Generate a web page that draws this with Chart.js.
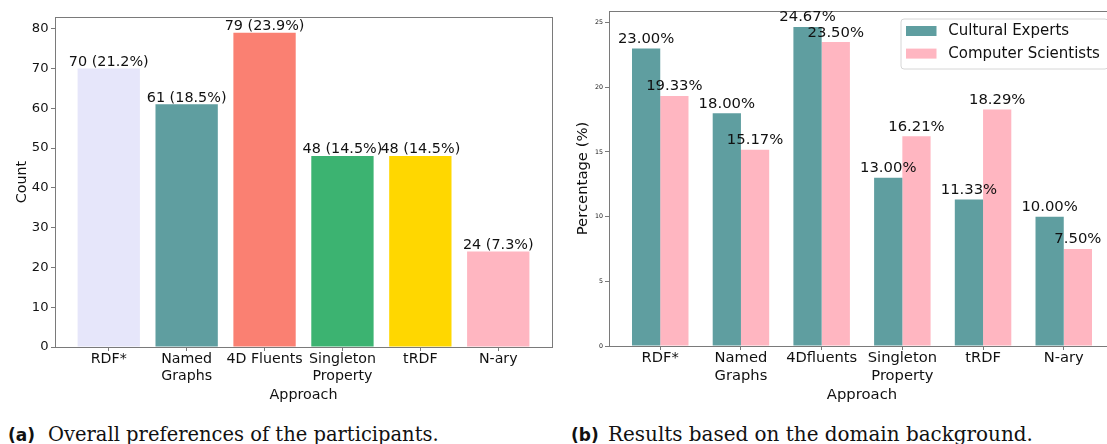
<!DOCTYPE html>
<html>
<head>
<meta charset="utf-8">
<title>Approach preferences</title>
<script src="https://cdn.jsdelivr.net/npm/chart.js@4.4.1/dist/chart.umd.min.js"></script>
<style>
  html, body { margin: 0; padding: 0; background: #fff; }
  body { position: relative; width: 1107px; height: 444px; overflow: hidden; }
  canvas { position: absolute; top: 0; }
  #chartA { left: 0; }
  #chartB { left: 560px; }
  .cap { position: absolute; line-height: 1; white-space: nowrap; color: #111; }
  .cap.tag { font-family: "DejaVu Sans", sans-serif; font-weight: bold; font-size: 17px; }
  .cap.txt { font-family: "DejaVu Serif", serif; font-size: 20px; }
</style>
</head>
<body>
<canvas id="chartA" width="558" height="405"></canvas>
<canvas id="chartB" width="570" height="405"></canvas>

<div class="cap tag" style="left:8px">(a)</div>
<div class="cap txt" style="left:48px" data-w="391">Overall preferences of the participants.</div>
<div class="cap tag" style="left:571px">(b)</div>
<div class="cap txt" style="left:608px" data-w="425">Results based on the domain background.</div>

<script>
// --- data: (a) overall preferences
const approachesA = ["RDF*", "Named\nGraphs", "4D Fluents", "Singleton\nProperty", "tRDF", "N-ary"];
const counts = [70, 61, 79, 48, 48, 24];
const countTicks = [0, 10, 20, 30, 40, 50, 60, 70, 80];
const barColorsA = ["#E6E6FA", "#5F9EA0", "#FA8072", "#3CB371", "#FFD700", "#FFB6C1"];

// --- data: (b) by domain background
const approachesB = ["RDF*", "Named\nGraphs", "4Dfluents", "Singleton\nProperty", "tRDF", "N-ary"];
const culturalExperts = [23.00, 18.00, 24.67, 13.00, 11.33, 10.00];
const computerScientists = [19.33, 15.17, 23.50, 16.21, 18.29, 7.50];
const percentTicks = [0, 5, 10, 15, 20, 25];

const total = counts.reduce((a, b) => a + b, 0);
const INK = "#111";
const SPINE = "#7a7a7a";

// box around the plot area (matplotlib spines)
const frame = {
  id: "frame",
  afterDatasetsDraw(chart) {
    const { left, top, right, bottom } = chart.chartArea;
    const ctx = chart.ctx;
    ctx.save();
    ctx.strokeStyle = SPINE;
    ctx.lineWidth = 1;
    const l = Math.round(left) + 0.5, t = Math.round(top) + 0.5;
    const r = Math.round(right) + 0.5, b = Math.round(bottom) + 0.5;
    ctx.strokeRect(l, t, r - l, b - t);
    ctx.restore();
  }
};

// value text on top of each bar
const barLabels = {
  id: "barLabels",
  afterDatasetsDraw(chart, args, opts) {
    const ctx = chart.ctx;
    ctx.save();
    ctx.font = opts.font;
    ctx.fillStyle = INK;
    ctx.textAlign = "center";
    ctx.textBaseline = "alphabetic";
    chart.data.datasets.forEach((ds, i) => {
      chart.getDatasetMeta(i).data.forEach((bar, j) => {
        ctx.fillText(ds.valueLabels[j], bar.x, bar.y - opts.lift);
      });
    });
    ctx.restore();
  }
};

// axis titles placed like matplotlib xlabel / ylabel
const axisTitles = {
  id: "axisTitles",
  afterDraw(chart, args, opts) {
    const ctx = chart.ctx;
    const { left, right, top, bottom } = chart.chartArea;
    ctx.save();
    ctx.font = opts.font;
    ctx.fillStyle = INK;
    ctx.textAlign = "center";
    ctx.textBaseline = "alphabetic";
    ctx.fillText(opts.xText, (left + right) / 2, opts.xBase);
    ctx.translate(opts.yBase, (top + bottom) / 2);
    ctx.rotate(-Math.PI / 2);
    ctx.fillText(opts.yText, 0, 0);
    ctx.restore();
  }
};

// legend box inside the plot, upper right
const boxLegend = {
  id: "boxLegend",
  afterDraw(chart, args, opts) {
    const ctx = chart.ctx;
    const { x, y, w, h } = opts;
    ctx.save();
    ctx.beginPath();
    ctx.roundRect(x + 0.5, y + 0.5, w, h, 3);
    ctx.fillStyle = "rgba(255,255,255,0.8)";
    ctx.fill();
    ctx.strokeStyle = "#d6d6d6";
    ctx.lineWidth = 1;
    ctx.stroke();
    ctx.font = opts.font;
    ctx.textBaseline = "middle";
    ctx.textAlign = "left";
    chart.data.datasets.forEach((ds, i) => {
      const cy = opts.firstRow + i * opts.rowGap;
      ctx.fillStyle = ds.backgroundColor;
      ctx.fillRect(opts.swatchX, cy - 5, 30.5, 10);
      ctx.fillStyle = INK;
      ctx.fillText(ds.label, opts.textX, cy + 0.5);
    });
    ctx.restore();
  }
};

function xScale(names, min, max, fontSize, height) {
  return {
    type: "linear",
    min: min,
    max: max,
    offset: false,
    afterBuildTicks: (axis) => { axis.ticks = names.map((_, i) => ({ value: i })); },
    afterFit: (axis) => { axis.height = height; },
    ticks: {
      autoSkip: false,
      maxRotation: 0,
      minRotation: 0,
      padding: 0,
      color: INK,
      font: { family: "DejaVu Sans", size: fontSize, lineHeight: 1.18 },
      callback: (value) => names[value].split("\n"),
    },
    grid: { offset: false, drawOnChartArea: false, drawTicks: true, tickLength: 4, tickColor: SPINE },
    border: { display: false },
  };
}

function yScale(tickValues, max, fontSize, width, pad) {
  return {
    type: "linear",
    min: 0,
    max: max,
    afterBuildTicks: (axis) => { axis.ticks = tickValues.map((v) => ({ value: v })); },
    afterFit: (axis) => { axis.width = width; },
    ticks: {
      padding: pad,
      color: INK,
      font: { family: "DejaVu Sans", size: fontSize },
    },
    grid: { drawOnChartArea: false, drawTicks: true, tickLength: 4, tickColor: SPINE },
    border: { display: false },
  };
}

new Chart(document.getElementById("chartA"), {
  type: "bar",
  data: {
    datasets: [{
      label: "Count",
      data: counts.map((v, i) => ({ x: i, y: v })),
      backgroundColor: barColorsA,
      valueLabels: counts.map((v) => `${v} (${(v / total * 100).toFixed(1)}%)`),
      categoryPercentage: 0.8,
      barPercentage: 1,
      borderWidth: 0,
    }],
  },
  options: {
    responsive: false,
    animation: false,
    layout: { padding: { top: 17, right: 6, left: 0, bottom: 0 } },
    plugins: {
      legend: { display: false },
      tooltip: { enabled: false },
      barLabels: { font: "14.4px 'DejaVu Sans'", lift: 2.7 },
      axisTitles: { font: "14.3px 'DejaVu Sans'", xText: "Approach", xBase: 398.8, yText: "Count", yBase: 25.7 },
    },
    scales: {
      x: xScale(approachesA, -0.69, 5.69, 14.2, 58),
      y: yScale(countTicks, 82.95, 13.1, 55, 2.5),
    },
  },
  plugins: [frame, barLabels, axisTitles],
});

new Chart(document.getElementById("chartB"), {
  type: "bar",
  data: {
    datasets: [
      {
        label: "Cultural Experts",
        data: culturalExperts.map((v, i) => ({ x: i, y: v })),
        backgroundColor: "#5F9EA0",
        valueLabels: culturalExperts.map((v) => v.toFixed(2) + "%"),
        categoryPercentage: 0.7,
        barPercentage: 1,
        borderWidth: 0,
      },
      {
        label: "Computer Scientists",
        data: computerScientists.map((v, i) => ({ x: i, y: v })),
        backgroundColor: "#FFB6C1",
        valueLabels: computerScientists.map((v) => v.toFixed(2) + "%"),
        categoryPercentage: 0.7,
        barPercentage: 1,
        borderWidth: 0,
      },
    ],
  },
  options: {
    responsive: false,
    animation: false,
    layout: { padding: { top: 11, right: 15, left: 0, bottom: 0 } },
    plugins: {
      legend: { display: false },
      tooltip: { enabled: false },
      barLabels: { font: "14.8px 'DejaVu Sans'", lift: 5.5 },
      axisTitles: { font: "14.8px 'DejaVu Sans'", xText: "Approach", xBase: 398.8, yText: "Percentage (%)", yBase: 26.8 },
      boxLegend: { x: 340.5, y: 18.5, w: 207, h: 50, swatchX: 346, textX: 388.3, firstRow: 31, rowGap: 22.6, font: "15px 'DejaVu Sans'" },
    },
    scales: {
      x: xScale(approachesB, -0.635, 5.635, 14.7, 59),
      y: yScale(percentTicks, 25.9, 6.3, 49, 2),
    },
  },
  plugins: [frame, barLabels, axisTitles, boxLegend],
});

// captions: fit the serif text to the measured width, baseline at y = 441.7
document.querySelectorAll(".cap").forEach((el) => {
  let size = parseFloat(getComputedStyle(el).fontSize);
  if (el.dataset.w) {
    size = size * parseFloat(el.dataset.w) / el.getBoundingClientRect().width;
    el.style.fontSize = size + "px";
  }
  el.style.top = (441.7 - 0.846 * size) + "px";
});
</script>
</body>
</html>
